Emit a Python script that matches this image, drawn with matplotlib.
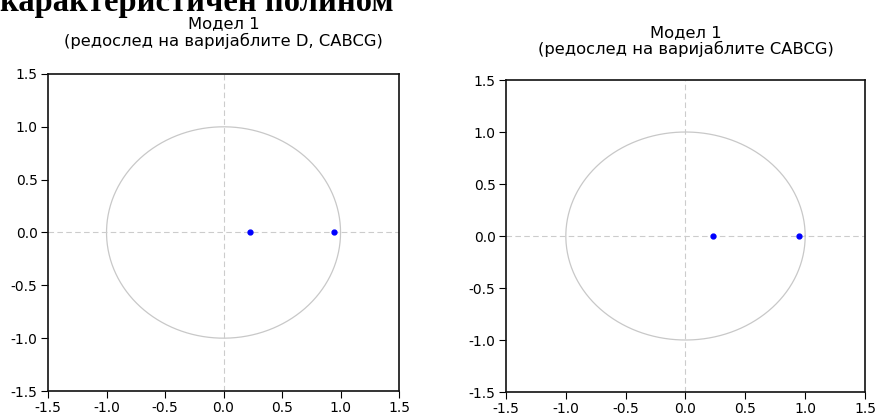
import numpy as np
import matplotlib.pyplot as plt

# inverse roots (real, imaginary) for the two models
roots_left_re = [0.228, 0.948]
roots_left_im = [0.0, 0.0]
roots_right_re = [0.228, 0.948]
roots_right_im = [0.0, 0.0]

titles = ["Модел 1\n(редослед на варијаблите D, CABCG)",
          "Модел 1\n(редослед на варијаблите CABCG)"]
ticks = [-1.5, -1.0, -0.5, 0.0, 0.5, 1.0, 1.5]
tick_labels = ["-1.5", "-1.0", "-0.5", "0.0", "0.5", "1.0", "1.5"]

plt.rcParams['font.family'] = ['DejaVu Sans']

fig = plt.figure(figsize=(8.78, 4.15), dpi=100)
ax1 = fig.add_axes([0.0547, 0.0578, 0.3998, 0.764])
ax2 = fig.add_axes([0.5763, 0.0554, 0.4089, 0.7518])

theta = np.linspace(0, 2 * np.pi, 400)

for ax, re, im, title, pad in [(ax1, roots_left_re, roots_left_im, titles[0], 20),
                               (ax2, roots_right_re, roots_right_im, titles[1], 18.5)]:
    ax.plot(np.cos(theta), np.sin(theta), color='#c8c8c8', lw=0.9)
    ax.axhline(0, color='#cccccc', lw=0.8, ls=(0, (5, 3)))
    ax.axvline(0, color='#cccccc', lw=0.8, ls=(0, (5, 3)))
    ax.plot(re, im, 'o', color='#0000ff', ms=3.5, zorder=3)
    ax.set_xlim(-1.5, 1.5)
    ax.set_ylim(-1.5, 1.5)
    ax.set_xticks(ticks)
    ax.set_xticklabels(tick_labels)
    ax.set_yticks(ticks)
    ax.set_yticklabels(tick_labels)
    ax.tick_params(direction='out', length=5, width=0.8, labelsize=10,
                   pad=2.5, colors='black')
    for s in ax.spines.values():
        s.set_linewidth(1.2)
        s.set_color('#111111')
    ax.set_title(title, fontsize=11.8, linespacing=1.1, pad=pad)

fig.text(0.0, 1 - 11 / 415, "карактеристичен полином", family='Liberation Serif',
         fontweight='bold', fontsize=23.5, ha='left', va='baseline')

fig.savefig('out.png', dpi=100)
